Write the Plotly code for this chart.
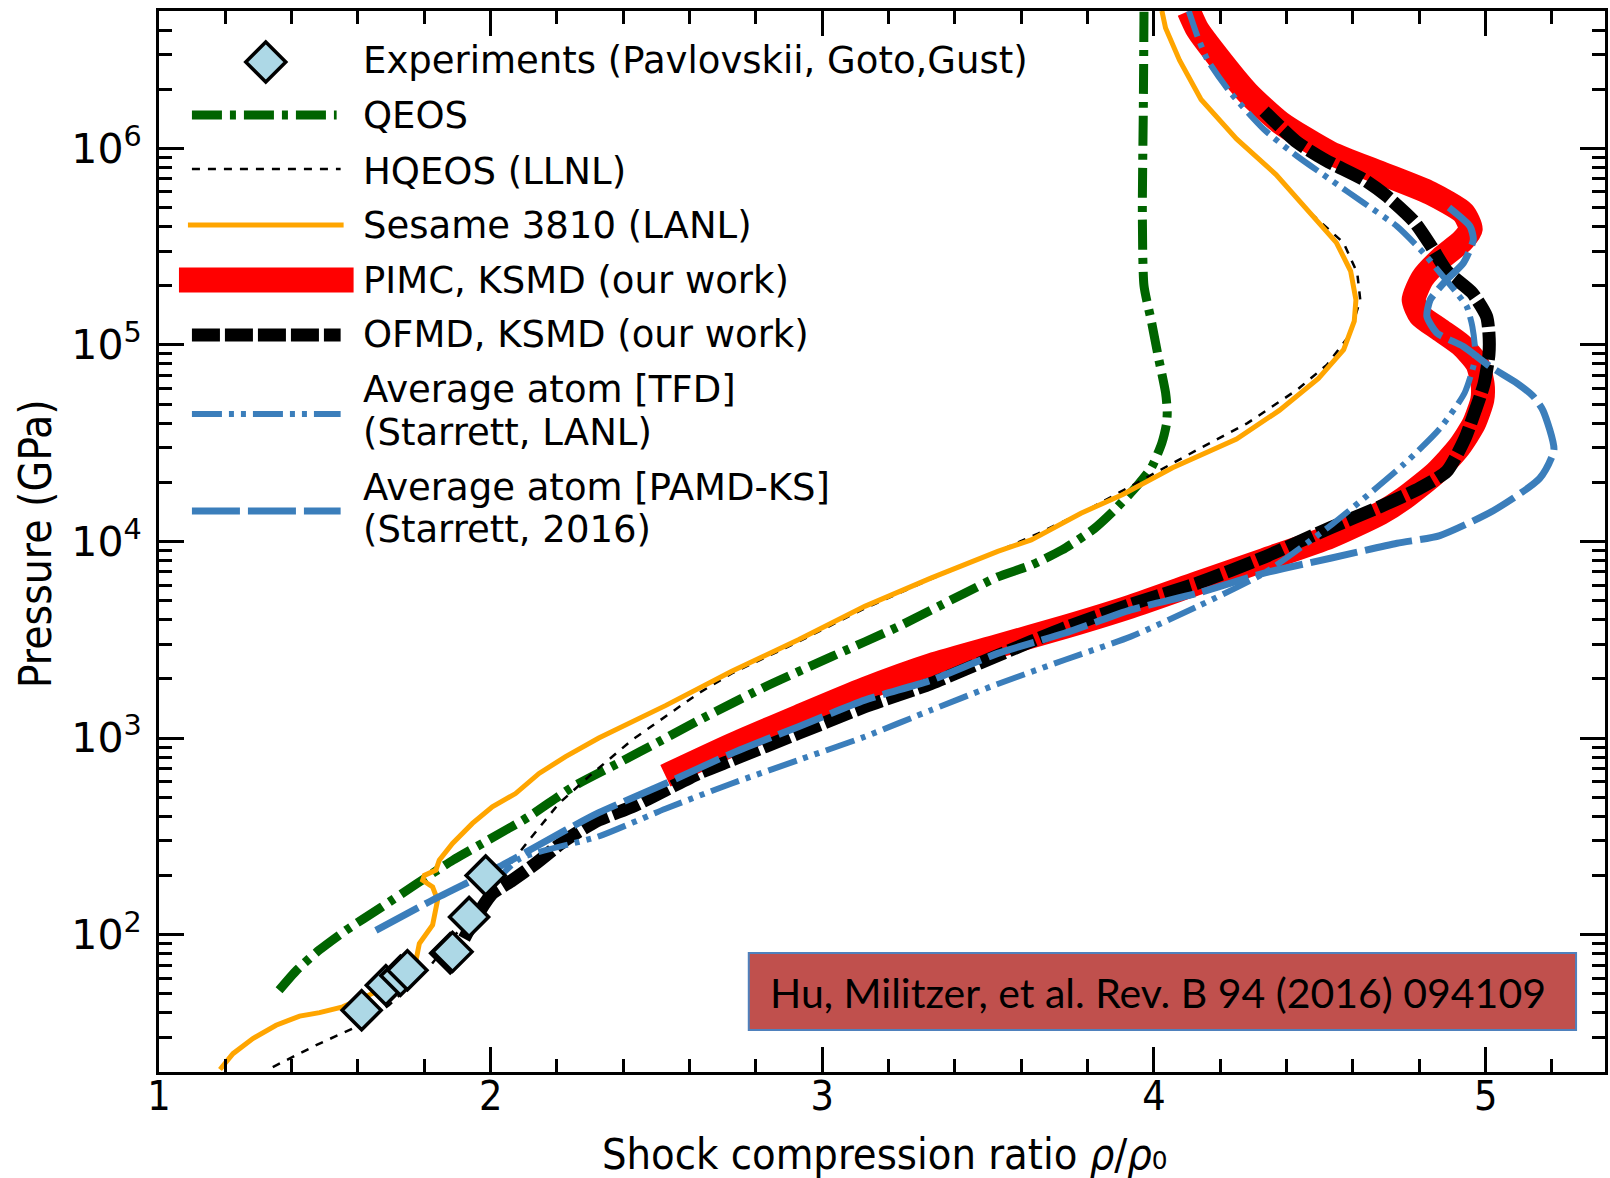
import plotly.graph_objects as go

# ---------------- data: shock compression ratio (x) and pressure in GPa (P) ----------------
exp_x = [1.611, 1.684, 1.728, 1.749, 1.878, 1.885, 1.935, 1.985]
exp_p = [41.2, 55.2, 61.7, 65.9, 80.4, 81.7, 123.0, 200.0]

qeos_x = [1.362, 1.415, 1.483, 1.563, 1.671, 1.778, 1.886, 1.993, 2.114, 2.248, 2.383, 2.517,
          2.627, 2.828, 3.028, 3.229, 3.429, 3.529, 3.630, 3.723, 3.819, 3.881, 3.949, 3.992,
          4.024, 4.038, 4.040, 4.035, 4.013, 3.992, 3.970, 3.965, 3.968, 3.970]
qeos_p = [52.1, 65.9, 83.4, 105, 138, 182, 239, 303, 397, 565, 743, 977,
          1230, 1824, 2594, 3690, 5458, 6607, 7586, 9057, 11590, 14450, 19190, 23710,
          31770, 39810, 46240, 57150, 87100, 132700, 200000, 465600, 1633000, 5000000]

hqeos_x = [1.343, 1.474, 1.594, 1.694, 1.815, 1.905, 1.995, 2.045, 2.116, 2.206, 2.300, 2.426,
           2.527, 2.627, 2.727, 2.928, 3.128, 3.329, 3.529, 3.650, 3.800, 3.981, 4.131, 4.282,
           4.432, 4.522, 4.590, 4.622, 4.613, 4.572, 4.475, 4.368, 4.249, 4.142, 4.077, 4.035, 4.024]
hqeos_p = [21.2, 27.4, 33.9, 43.8, 68.5, 105, 162, 213, 303, 465, 646, 977,
           1282, 1690, 2133, 3090, 4571, 6457, 8913, 10960, 14490, 21380, 29310, 40000,
           59160, 79430, 112200, 169800, 232300, 330400, 464500, 736200, 1117000, 1774000,
           2812000, 4093000, 5000000]

sesame_x = [1.184, 1.223, 1.283, 1.353, 1.424, 1.484, 1.554, 1.604, 1.654, 1.720, 1.760, 1.775,
            1.785, 1.825, 1.840, 1.825, 1.795, 1.800, 1.835, 1.845, 1.885, 1.945, 2.005, 2.075,
            2.146, 2.226, 2.326, 2.527, 2.727, 2.928, 3.128, 3.329, 3.529, 3.630, 3.780, 3.906,
            4.056, 4.249, 4.378, 4.496, 4.572, 4.604, 4.609, 4.593, 4.550, 4.475, 4.368, 4.249,
            4.142, 4.077, 4.035, 4.024]
sesame_p = [20.6, 24.8, 29.6, 34.6, 38.5, 40.1, 42.9, 46.8, 51.1, 60.3, 69.2, 74.1,
            90.2, 112, 150, 175, 189, 200, 213, 239, 291, 368, 447, 522,
            661, 804, 1000, 1462, 2188, 3162, 4677, 6531, 8913, 10190, 13930, 17340,
            23710, 33190, 46450, 67610, 94620, 132100, 169800, 237700, 331900, 464500, 736200,
            1117000, 1774000, 2812000, 4093000, 5000000]

pimc_x = [2.527, 2.727, 2.928, 3.128, 3.329, 3.529, 3.730, 3.930, 4.131, 4.332, 4.532, 4.683,
          4.754, 4.850, 4.920, 4.965, 4.990, 4.991, 4.975, 4.926, 4.860, 4.803, 4.783, 4.810,
          4.865, 4.930, 4.955, 4.933, 4.833, 4.683, 4.532, 4.382, 4.282, 4.191, 4.131, 4.105]
pimc_p = [643, 923, 1288, 1778, 2355, 2938, 3673, 4667, 6138, 8054, 10590, 13930,
          16600, 22390, 30200, 39810, 52600, 63100, 80000, 100000, 120200, 141300, 169800, 218800,
          275400, 338800, 389000, 469900, 592900, 749900, 948400, 1349000, 1919000, 2944000,
          4027000, 5000000]

ofmd_x = [1.920, 1.960, 2.005, 2.065, 2.136, 2.226, 2.326, 2.426, 2.527, 2.627, 2.727, 2.928,
          3.128, 3.329, 3.529, 3.730, 3.930, 4.131, 4.332, 4.532, 4.683, 4.800, 4.883, 4.937,
          4.969, 4.995, 5.010, 5.010, 5.003, 4.959, 4.883, 4.836, 4.783, 4.700, 4.633, 4.518,
          4.432, 4.332]
ofmd_p = [95.5, 126, 162, 189, 230, 303, 383, 447, 543, 661, 773, 1057,
          1442, 1897, 2630, 3631, 4786, 6138, 8318, 11750, 15070, 18620, 22750, 33190,
          46450, 63100, 89130, 115100, 139600, 184500, 237700, 317700, 426600, 575400, 693400,
          868900, 1072000, 1549000]

tfd_x = [2.000, 2.087, 2.326, 2.527, 2.727, 2.928, 3.128, 3.329, 3.529, 3.730, 3.930, 4.131,
         4.332, 4.539, 4.754, 4.862, 4.937, 4.969, 4.960, 4.943, 4.913, 4.863, 4.813, 4.733,
         4.633, 4.532, 4.432, 4.332, 4.231, 4.161, 4.131, 4.105]
tfd_p = [174, 243, 316, 437, 587, 773, 1016, 1390, 1884, 2495, 3281, 4667,
         6902, 12300, 24770, 37580, 57150, 86900, 124200, 157000, 183700, 232300, 293800, 400900,
         527200, 693400, 912000, 1247000, 1919000, 2831000, 3724000, 5000000]

pamd_x = [1.654, 1.825, 2.025, 2.226, 2.326, 2.527, 2.727, 2.928, 3.128, 3.329, 3.529, 3.730,
          3.930, 4.131, 4.332, 4.532, 4.733, 4.862, 5.023, 5.163, 5.206, 5.173, 5.144, 5.094,
          5.013, 4.933, 4.853, 4.823, 4.833, 4.883, 4.933, 4.963, 4.953, 4.878]
pamd_p = [105, 150, 221, 340, 417, 587, 836, 1143, 1560, 1972, 2698, 3412,
          4487, 5458, 6902, 8222, 9795, 10720, 14350, 20940, 29240, 46450, 54700, 63970,
          77800, 98200, 115100, 139600, 169800, 214800, 261200, 343600, 400900, 517600]

y_major = [1e2, 1e3, 1e4, 1e5, 1e6]
y_major_text = ["10<sup>2</sup>", "10<sup>3</sup>", "10<sup>4</sup>", "10<sup>5</sup>", "10<sup>6</sup>"]
y_minor = [m * 10 ** e for e in range(1, 7) for m in range(2, 10) if m * 10 ** e <= 5e6]

# ---------------- styles ----------------
GREEN = "#006400"
ORANGE = "#FFA500"
RED = "#FF0000"
BLUE = "#3B7EBB"
LIGHTBLUE = "#ADD8E6"

styles = {
    "qeos": dict(color=GREEN, width=9, dash="30px,8px,6px,8px"),
    "hqeos": dict(color="black", width=2.5, dash="8px,8px"),
    "sesame": dict(color=ORANGE, width=5, dash="solid"),
    "pimc": dict(color=RED, width=24, dash="solid"),
    "ofmd": dict(color="black", width=13, dash="28px,5px"),
    "tfd": dict(color=BLUE, width=6, dash="30px,7px,5px,7px,5px,7px"),
    "pamd": dict(color=BLUE, width=7, dash="48px,8px"),
}

fig = go.Figure()


def add_curve(x, p, key, shape="spline"):
    s = styles[key]
    fig.add_trace(go.Scatter(
        x=x, y=p, mode="lines",
        line=dict(color=s["color"], width=s["width"], dash=s["dash"], shape=shape,
                  smoothing=0.6 if shape == "spline" else None),
        showlegend=False, hoverinfo="skip"))


add_curve(qeos_x, qeos_p, "qeos")
add_curve(hqeos_x, hqeos_p, "hqeos", shape="linear")
add_curve(sesame_x, sesame_p, "sesame", shape="linear")
add_curve(pimc_x, pimc_p, "pimc")
add_curve(ofmd_x, ofmd_p, "ofmd")
add_curve(tfd_x, tfd_p, "tfd")
add_curve(pamd_x, pamd_p, "pamd")

fig.add_trace(go.Scatter(
    x=exp_x, y=exp_p, mode="markers",
    marker=dict(symbol="diamond", size=30, color=LIGHTBLUE,
                line=dict(color="black", width=3.5)),
    showlegend=False, hoverinfo="skip"))

# ---------------- layout geometry (pixels) ----------------
W, H = 1610, 1178
ML, MR, MT, MB = 159, 2, 11, 106
PW, PH = W - ML - MR, H - MT - MB


def fx(px):
    return (px - ML) / PW


def fy(py):
    return (H - MB - py) / PH


# hand-drawn legend
legend_rows = [
    ("qeos", 192, 337, 115),
    ("hqeos", 192, 341, 169),
    ("sesame", 188, 344, 225),
    ("pimc", 179, 354, 280),
    ("ofmd", 192, 341, 335),
    ("tfd", 192, 341, 414),
    ("pamd", 192, 341, 511),
]
shapes = []
for key, x0, x1, yy in legend_rows:
    s = styles[key]
    w = 25 if key == "pimc" else s["width"]
    shapes.append(dict(type="line", xref="paper", yref="paper",
                       x0=fx(x0), x1=fx(x1), y0=fy(yy), y1=fy(yy),
                       line=dict(color=s["color"], width=w, dash=s["dash"])))

shapes.append(dict(type="path", xref="paper", yref="paper",
                   xsizemode="pixel", ysizemode="pixel",
                   xanchor=fx(266), yanchor=fy(62),
                   path="M0,20 L20,0 L0,-20 L-20,0 Z",
                   fillcolor=LIGHTBLUE, line=dict(color="black", width=3.5)))

# citation box
shapes.append(dict(type="rect", xref="paper", yref="paper",
                   x0=fx(750), x1=fx(1579), y0=fy(1030), y1=fy(953),
                   fillcolor="#C0504D", line=dict(color="#4F81BD", width=2)))

LEG_FONT = dict(family="DejaVu Sans", size=37, color="black")
legend_texts = [
    ("Experiments (Pavlovskii, Goto,Gust)", 61),
    ("QEOS", 116),
    ("HQEOS (LLNL)", 171),
    ("Sesame 3810 (LANL)", 226),
    ("PIMC, KSMD (our work)", 280),
    ("OFMD, KSMD (our work)", 335),
    ("Average atom [TFD]", 389),
    ("(Starrett, LANL)", 432),
    ("Average atom [PAMD-KS]", 487),
    ("(Starrett, 2016)", 529),
]
annotations = []
for txt, yy in legend_texts:
    annotations.append(dict(text=txt, xref="paper", yref="paper", x=fx(361), y=fy(yy),
                            xanchor="left", yanchor="middle", showarrow=False, font=LEG_FONT))

annotations.append(dict(text="Hu, Militzer, et al. Rev. B 94 (2016) 094109",
                        xref="paper", yref="paper", x=fx(1160), y=fy(992),
                        xanchor="center", yanchor="middle", showarrow=False,
                        font=dict(family="Lato", size=41, color="black")))

annotations.append(dict(text="Shock compression ratio <i>ρ</i>/<i>ρ</i>₀",
                        xref="paper", yref="paper", x=fx(886), y=fy(1154),
                        xanchor="center", yanchor="middle", showarrow=False,
                        font=dict(family="DejaVu Sans Condensed", size=43, color="black")))
annotations.append(dict(text="Pressure (GPa)", textangle=-90,
                        xref="paper", yref="paper", x=fx(36), y=fy(544),
                        xanchor="center", yanchor="middle", showarrow=False,
                        font=dict(family="DejaVu Sans Condensed", size=44, color="black")))

fig.update_layout(
    width=W, height=H,
    margin=dict(l=ML, r=MR, t=MT, b=MB, pad=0),
    paper_bgcolor="white", plot_bgcolor="white",
    showlegend=False,
    shapes=shapes,
    annotations=annotations,
    xaxis=dict(
        range=[1, 5.36], tickvals=[1, 2, 3, 4, 5], ticktext=["1", "2", "3", "4", "5"],
        ticks="inside", ticklen=25, tickwidth=2.5, tickcolor="black",
        showline=True, linecolor="black", linewidth=3, mirror="ticks",
        showgrid=False, zeroline=False, ticklabelstandoff=-14,
        tickfont=dict(family="DejaVu Sans Condensed", size=41, color="black"),
        minor=dict(dtick=0.2, tick0=1, ticks="inside", ticklen=13, tickwidth=2.5,
                   tickcolor="black", showgrid=False),
    ),
    yaxis=dict(
        type="log", range=[1.30103, 6.69897],
        tickvals=y_major, ticktext=y_major_text,
        ticks="inside", ticklen=25, tickwidth=2.5, tickcolor="black",
        showline=True, linecolor="black", linewidth=3, mirror="ticks",
        showgrid=False, zeroline=False, ticklabelstandoff=6,
        tickfont=dict(family="DejaVu Sans", size=41, color="black"),
        minor=dict(tickvals=y_minor, ticks="inside", ticklen=13, tickwidth=2.5,
                   tickcolor="black", showgrid=False),
    ),
)

fig.write_html("out.html")
